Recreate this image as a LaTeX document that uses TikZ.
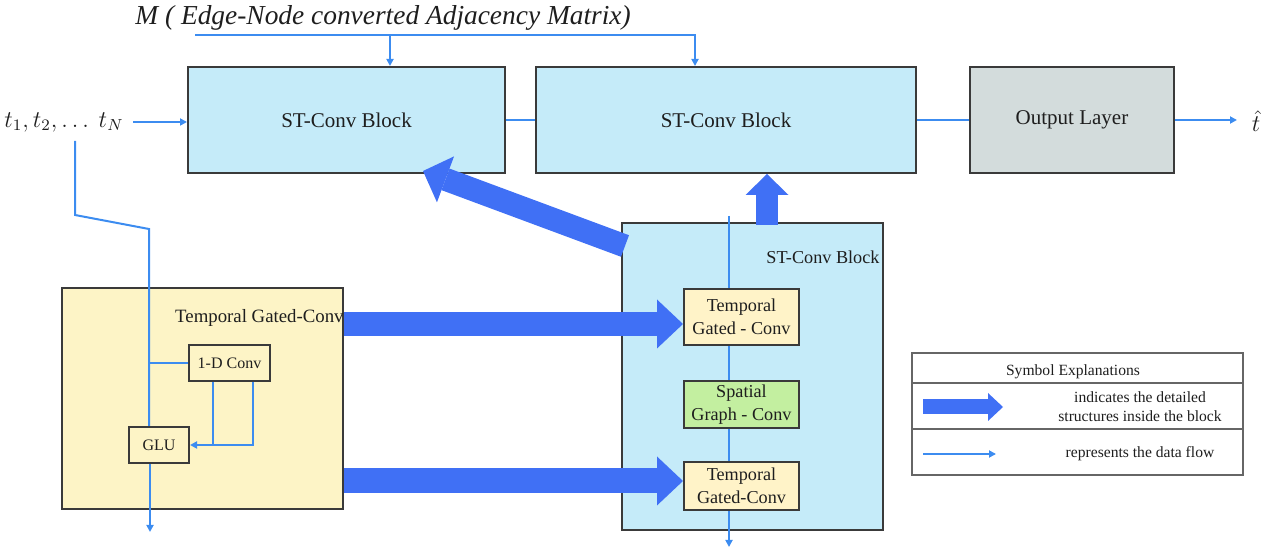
\documentclass[tikz,border=0pt]{standalone}
\usepackage{fontspec}
\setmainfont{Liberation Serif}
\usetikzlibrary{arrows.meta,calc}
\definecolor{stblue}{HTML}{C5EBF9}
\definecolor{tgyellow}{HTML}{FDF4C6}
\definecolor{boxyellow}{HTML}{FFF3C8}
\definecolor{sgreen}{HTML}{C3EFA0}
\definecolor{outgrey}{HTML}{D3DCDC}
\definecolor{edge}{HTML}{3A3A3A}
\definecolor{legedge}{HTML}{666666}
\definecolor{flowblue}{HTML}{3C8CF0}
\definecolor{bigblue}{HTML}{4070F5}
\definecolor{ink}{HTML}{1E1E1E}
\begin{document}
\begin{tikzpicture}[x=0.5pt,y=-0.5pt,
  box/.style={draw=edge, line width=1pt, inner sep=0pt, text=ink, align=center},
  txt/.style={inner sep=0pt, text=ink, align=center},
  flowline/.style={draw=flowblue, line width=1pt},
  flow/.style={flowline, -{Triangle[length=3.5pt,width=3.5pt]}},
  bigarrow/.style n args={3}{draw=bigblue, line cap=butt, line width=#1,
    -{Triangle[length=#2,width=#3,line width=0pt]}},
  fbig/.style={font=\fontsize{10.5}{12.6}\selectfont},
  fmid/.style={font=\fontsize{9.1}{11.5}\selectfont},
  fsmall/.style={font=\fontsize{8}{9.6}\selectfont},
  fleg/.style={font=\fontsize{7.8}{9.6}\selectfont}]

\useasboundingbox (0,0) rectangle (1270,550);

% ---------- top row ----------
\node[txt, anchor=west, font=\fontsize{13.7}{16}\itshape] (title) at (135,18)
  {M ( Edge-Node converted Adjacency Matrix)};
\node[txt, font=\fontsize{11.5}{14}\selectfont] (tin) at (64,122) {$t_1,t_2,\dots\ t_N$};
\node[txt, font=\fontsize{12}{14}\selectfont] (that) at (1256,121) {$\hat{t}$};

\node[box, fbig, fill=stblue, minimum width=158.5pt, minimum height=53pt] (b1) at (346.5,120) {ST-Conv Block};
\node[box, fbig, fill=stblue, minimum width=190pt, minimum height=53pt] (b2) at (726,120) {ST-Conv Block};
\node[box, fbig, fill=outgrey, minimum width=102pt, minimum height=53pt] (out) at (1072,120) {Output Layer};

% adjacency matrix feed
\coordinate (m0) at (195,35);
\coordinate (mA) at (390,35);
\coordinate (mB) at (695,35);
\draw[flow] (m0) -- (mB) -- (mB |- b2.north);
\draw[flow] (mA) -- (mA |- b1.north);

% main data path
\coordinate (t0) at (133,122);
\coordinate (tend) at (1237,121);
\draw[flow] (t0) -- (b1.west |- t0);
\draw[flowline] (b1.east) -- (b2.west);
\draw[flowline] (b2.east) -- (out.west);
\draw[flow] (out.east) -- (tend |- out.east);

% ---------- temporal gated convolution detail ----------
\node[box, fill=tgyellow, minimum width=140.5pt, minimum height=110.5pt] (tg) at (202.5,398.5) {};
\node[txt, font=\fontsize{9.4}{11.5}\selectfont, anchor=east] (tglabel) at (344,318) {Temporal Gated-Conv};
\node[box, fsmall, fill=tgyellow, minimum width=40.5pt, minimum height=18pt] (c1d) at (229.5,363) {1-D Conv};
\node[box, fsmall, fill=tgyellow, minimum width=30pt, minimum height=18pt] (glu) at (159,445) {GLU};

\coordinate (v0) at (75,141);
\coordinate (v1) at (75,215);
\coordinate (v2) at (149,229);
\draw[flowline] (v0) -- (v1) -- (v2) -- (v2 |- glu.north);
\draw[flowline] (c1d.west -| v2) -- (c1d.west);
\coordinate (ca) at (213,445);
\coordinate (cb) at (253,445);
\draw[flowline] (ca |- c1d.south) -- (ca);
\draw[flow] (cb |- c1d.south) -- (cb) -- (glu.east);
\coordinate (gout) at (150,532);
\draw[flow] (glu.south -| gout) -- (gout);

% ---------- ST-Conv block detail ----------
\node[box, fill=stblue, minimum width=130.5pt, minimum height=153.5pt] (st) at (752.5,376.5) {};
\node[txt, fmid, anchor=west] (stlabel) at (766,257) {ST-Conv Block};
\node[box, fmid, fill=boxyellow, minimum width=57.5pt, minimum height=28pt] (tc1) at (741.5,317) {Temporal\\Gated - Conv};
\node[box, fmid, fill=sgreen, minimum width=57.5pt, minimum height=23.5pt] (sgc) at (741.5,404.5) {Spatial\\Graph - Conv};
\node[box, fmid, fill=boxyellow, minimum width=57.5pt, minimum height=24pt] (tc2) at (741.5,486) {Temporal\\Gated-Conv};
\coordinate (s0) at (729,216);
\coordinate (s1) at (729,547);
\draw[flowline] (s0) -- (s0 |- tc1.north);
\draw[flowline] (tc1.south -| s0) -- (sgc.north -| s0);
\draw[flowline] (sgc.south -| s0) -- (tc2.north -| s0);
\draw[flow] (tc2.south -| s0) -- (s1);

% ---------- detail arrows ----------
\coordinate (a1) at (0,324);
\coordinate (a2) at (0,481);
\draw[bigarrow={12pt}{13pt}{24.5pt}] (tg.east |- a1) -- (tc1.west |- a1);
\draw[bigarrow={12.5pt}{13pt}{24.5pt}] (tg.east |- a2) -- (tc2.west |- a2);
\coordinate (d0) at (625,246);
\coordinate (d1) at (423,171);
\draw[bigarrow={11.5pt}{12pt}{24.5pt}] (d0) -- (d1);
\coordinate (u0) at (767,225);
\draw[bigarrow={11pt}{10.5pt}{21.5pt}] (u0) -- (u0 |- b2.south);

% ---------- legend ----------
\node[draw=legedge, line width=0.8pt, inner sep=0pt, minimum width=165.5pt, minimum height=61pt] (leg) at (1077.5,414) {};
\coordinate (l1) at (0,383);
\coordinate (l2) at (0,429);
\draw[legedge, line width=0.8pt] (leg.west |- l1) -- (leg.east |- l1);
\draw[legedge, line width=0.8pt] (leg.west |- l2) -- (leg.east |- l2);
\node[txt, fleg] (legtitle) at (1073,372) {Symbol Explanations};
\coordinate (k0) at (923,407);
\coordinate (k1) at (1003,407);
\draw[bigarrow={7.5pt}{7.5pt}{14pt}] (k0) -- (k1);
\node[txt, fleg] (legbig) at (1140,407) {indicates the detailed\\structures inside the block};
\coordinate (f0) at (923,454);
\coordinate (f1) at (996,454);
\draw[flow] (f0) -- (f1);
\node[txt, fleg] (legflow) at (1140,454) {represents the data flow};
\end{tikzpicture}
\end{document}
